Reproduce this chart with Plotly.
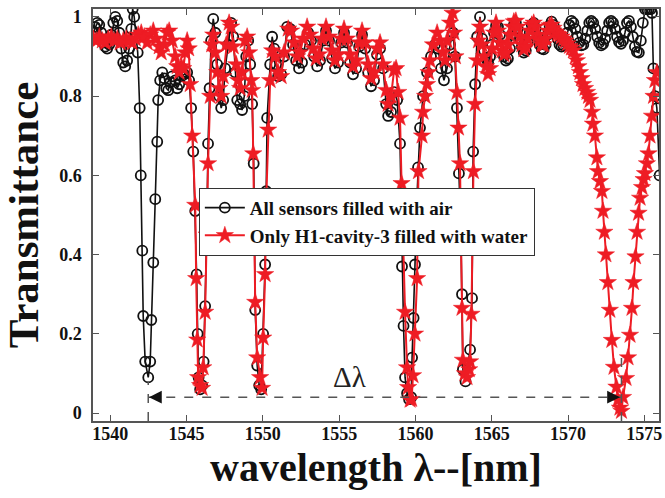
import plotly.graph_objects as go

# ---------------- data ----------------
wl_air = [
    1538.89, 1539.02, 1539.15, 1539.28, 1539.41, 1539.54, 1539.67, 1539.80, 1539.93, 1540.07,
    1540.20, 1540.33, 1540.46, 1540.59, 1540.72, 1540.85, 1540.98, 1541.11, 1541.24, 1541.38,
    1541.47, 1541.57, 1541.70, 1541.80, 1541.93, 1542.00, 1542.10, 1542.16, 1542.29, 1542.49,
    1542.62, 1542.69, 1542.82, 1542.95, 1543.08, 1543.14, 1543.27, 1543.41, 1543.54, 1543.67,
    1543.80, 1543.93, 1544.06, 1544.26, 1544.39, 1544.52, 1544.65, 1544.85, 1545.04, 1545.17,
    1545.30, 1545.44, 1545.57, 1545.66, 1545.73, 1545.79, 1545.89, 1546.02, 1546.12, 1546.22,
    1546.32, 1546.41, 1546.51, 1546.61, 1546.75, 1546.88, 1547.01, 1547.14, 1547.27, 1547.40,
    1547.53, 1547.73, 1547.92, 1548.06, 1548.19, 1548.32, 1548.51, 1548.64, 1548.78, 1548.91,
    1549.04, 1549.17, 1549.30, 1549.40, 1549.45, 1549.50, 1549.63, 1549.76, 1549.89, 1550.02,
    1550.15, 1550.22, 1550.28, 1550.48, 1550.61, 1550.74, 1550.87, 1551.00, 1551.20, 1551.39,
    1551.59, 1551.79, 1551.98, 1552.18, 1552.37, 1552.57, 1552.77, 1552.97, 1553.16, 1553.36,
    1553.56, 1553.75, 1553.95, 1554.14, 1554.34, 1554.54, 1554.73, 1554.93, 1555.13, 1555.32,
    1555.52, 1555.72, 1555.91, 1556.11, 1556.31, 1556.50, 1556.70, 1556.90, 1557.09, 1557.29,
    1557.48, 1557.68, 1557.88, 1558.08, 1558.21, 1558.40, 1558.60, 1558.80, 1558.99, 1559.06,
    1559.12, 1559.22, 1559.32, 1559.45, 1559.58, 1559.72, 1559.78, 1559.88, 1559.97, 1560.07,
    1560.17, 1560.30, 1560.50, 1560.76, 1561.02, 1561.28, 1561.48, 1561.68, 1561.87, 1562.07,
    1562.27, 1562.46, 1562.59, 1562.72, 1562.85, 1562.98, 1563.05, 1563.11, 1563.28, 1563.45,
    1563.58, 1563.71, 1563.75, 1563.78, 1563.91, 1564.04,
    1564.23, 1564.37, 1564.50, 1564.63, 1564.76, 1564.89, 1565.02, 1565.15, 1565.28, 1565.41,
    1565.54, 1565.67, 1565.80, 1565.93, 1566.06, 1566.19, 1566.32, 1566.45, 1566.58, 1566.71,
    1566.84, 1566.97, 1567.10, 1567.23, 1567.36, 1567.49, 1567.62, 1567.75, 1567.88, 1568.01,
    1568.14, 1568.27, 1568.40, 1568.53, 1568.66, 1568.79, 1568.92, 1569.05, 1569.18, 1569.31,
    1569.44, 1569.57, 1569.70, 1569.83, 1569.96, 1570.09, 1570.22, 1570.35, 1570.48, 1570.61,
    1570.74, 1570.87, 1571.00, 1571.13, 1571.26, 1571.39, 1571.52, 1571.65, 1571.78, 1571.91,
    1572.04, 1572.17, 1572.30, 1572.43, 1572.56, 1572.69, 1572.82, 1572.95, 1573.08, 1573.21,
    1573.34, 1573.47, 1573.60, 1573.73, 1573.86, 1573.99, 1574.12, 1574.25, 1574.38, 1574.51,
    1574.64, 1574.77, 1574.90, 1575.04, 1575.17, 1575.30, 1575.43, 1575.50, 1575.59, 1575.70,
    1575.82, 1576.00,
]
t_air = [
    0.96, 0.975, 0.985, 0.98, 0.96, 0.935, 0.925, 0.92, 0.93, 0.955,
    0.985, 1.0, 0.99, 0.96, 0.92, 0.885, 0.875, 0.89, 0.92, 0.97,
    1.02, 1.0, 0.95, 0.91, 0.77, 0.60, 0.41, 0.245, 0.13, 0.09,
    0.13, 0.235, 0.38, 0.54, 0.685, 0.79, 0.84, 0.86, 0.845, 0.82,
    0.815, 0.835, 0.85, 0.84, 0.82, 0.83, 0.85, 0.855, 0.86, 0.84,
    0.77, 0.66, 0.51, 0.35, 0.20, 0.09, 0.06, 0.07, 0.13, 0.27,
    0.45, 0.68, 0.82, 0.94, 0.995, 0.96, 0.88, 0.80, 0.77, 0.79,
    0.87, 0.93, 0.985, 0.95, 0.86, 0.79, 0.78, 0.765, 0.80, 0.90,
    0.94, 0.88, 0.78, 0.63, 0.45, 0.26, 0.12, 0.07, 0.06, 0.20,
    0.375, 0.56, 0.745, 0.88, 0.95, 0.92, 0.88, 0.85, 0.855, 0.90,
    0.975, 0.97, 0.93, 0.89, 0.87, 0.885, 0.93, 0.96, 0.94, 0.90,
    0.875, 0.89, 0.94, 0.965, 0.94, 0.895, 0.87, 0.885, 0.935, 0.96,
    0.935, 0.885, 0.855, 0.87, 0.925, 0.955, 0.92, 0.86, 0.825, 0.84,
    0.905, 0.92, 0.87, 0.78, 0.75, 0.76, 0.81, 0.79, 0.68, 0.52,
    0.37, 0.22, 0.09, 0.05, 0.035, 0.04, 0.14, 0.24, 0.375, 0.52,
    0.62, 0.72, 0.80, 0.86, 0.90, 0.93, 0.92, 0.87, 0.84, 0.87,
    0.93, 0.96, 0.90, 0.77, 0.605, 0.45, 0.30, 0.11, 0.08, 0.12,
    0.16, 0.29, 0.45, 0.66, 0.83, 0.95,
    1.0, 0.945, 0.915, 0.895, 0.885, 0.90, 0.93, 0.96, 0.978, 0.975,
    0.955, 0.925, 0.90, 0.89, 0.895, 0.92, 0.955, 0.98, 0.985, 0.97,
    0.945, 0.925, 0.91, 0.915, 0.935, 0.96, 0.98, 0.985, 0.97, 0.95,
    0.93, 0.92, 0.918, 0.93, 0.955, 0.978, 0.988, 0.98, 0.965, 0.945,
    0.93, 0.925, 0.928, 0.94, 0.96, 0.98, 0.99, 0.985, 0.97, 0.95,
    0.935, 0.928, 0.93, 0.945, 0.965, 0.985, 0.99, 0.985, 0.97, 0.95,
    0.935, 0.928, 0.932, 0.945, 0.965, 0.985, 0.99, 0.985, 0.97, 0.95,
    0.937, 0.932, 0.94, 0.96, 0.985, 0.99, 0.975, 0.95, 0.925, 0.912,
    0.91, 0.94, 0.985, 1.02, 1.02, 1.02, 1.02, 1.01, 0.87, 0.80,
    0.77, 0.60,
]

wl_water = [
    1538.89, 1539.08, 1539.28, 1539.48, 1539.67, 1539.87, 1540.07, 1540.26, 1540.46, 1540.65,
    1540.85, 1541.05, 1541.24, 1541.44, 1541.64, 1541.83, 1542.03, 1542.23, 1542.42, 1542.62,
    1542.82, 1543.01, 1543.21, 1543.34, 1543.54, 1543.73, 1543.86, 1544.06, 1544.26, 1544.39,
    1544.52, 1544.65, 1544.78, 1544.91, 1545.04, 1545.14, 1545.24, 1545.37, 1545.57, 1545.63,
    1545.70, 1545.76, 1545.89, 1546.02, 1546.09, 1546.22, 1546.32, 1546.41, 1546.55, 1546.65,
    1546.75, 1546.88, 1547.01, 1547.14, 1547.27, 1547.40, 1547.60, 1547.79, 1547.92, 1548.06,
    1548.26, 1548.38, 1548.51, 1548.64, 1548.84, 1548.97, 1549.10, 1549.24, 1549.30, 1549.37,
    1549.43, 1549.50, 1549.63, 1549.82, 1549.95, 1550.02, 1550.15, 1550.22, 1550.35, 1550.48,
    1550.61, 1550.81, 1551.00, 1551.20, 1551.39, 1551.66, 1551.85, 1552.05, 1552.25, 1552.44,
    1552.64, 1552.90, 1553.10, 1553.29, 1553.49, 1553.69, 1553.88, 1554.14, 1554.34, 1554.54,
    1554.73, 1554.93, 1555.13, 1555.32, 1555.52, 1555.72, 1555.91, 1556.11, 1556.31, 1556.50,
    1556.70, 1556.90, 1557.09, 1557.29, 1557.48, 1557.68, 1557.88, 1558.08, 1558.21, 1558.40,
    1558.60, 1558.73, 1558.87, 1558.99, 1559.09, 1559.19, 1559.32, 1559.45, 1559.52, 1559.65,
    1559.75, 1559.84, 1559.97, 1560.11, 1560.14, 1560.20, 1560.43, 1560.50, 1560.63, 1560.76,
    1560.86, 1560.96, 1561.15, 1561.42, 1561.61, 1561.81, 1561.94, 1562.07, 1562.27, 1562.43,
    1562.53, 1562.62, 1562.72, 1562.82, 1562.92, 1562.99, 1563.05, 1563.11, 1563.24, 1563.38,
    1563.52, 1563.58, 1563.67, 1563.73, 1563.80, 1563.91, 1564.04, 1564.13,
    1564.23, 1564.37, 1564.50, 1564.63, 1564.76, 1564.89, 1565.02, 1565.15, 1565.28, 1565.41,
    1565.54, 1565.67, 1565.80, 1565.93, 1566.06, 1566.19, 1566.32, 1566.45, 1566.58, 1566.71,
    1566.84, 1566.97, 1567.10, 1567.23, 1567.36, 1567.49, 1567.62, 1567.75, 1567.88, 1568.01,
    1568.14, 1568.27, 1568.40, 1568.53, 1568.66, 1568.79, 1568.92, 1569.05, 1569.18, 1569.31,
    1569.44, 1569.57, 1569.70, 1569.83, 1569.96, 1570.09, 1570.22, 1570.35, 1570.48, 1570.58,
    1570.68, 1570.78, 1570.88, 1570.98, 1571.11, 1571.24, 1571.34, 1571.44, 1571.57, 1571.63,
    1571.76, 1571.89, 1571.96, 1572.09, 1572.22, 1572.29, 1572.38, 1572.48, 1572.61, 1572.74,
    1572.87, 1573.01, 1573.17, 1573.27, 1573.40, 1573.50, 1573.60, 1573.80, 1573.93, 1574.06,
    1574.19, 1574.29, 1574.42, 1574.52, 1574.62, 1574.72, 1574.85, 1574.95, 1575.04, 1575.17,
    1575.27, 1575.37, 1575.50, 1575.60, 1575.69, 1575.82,
]
t_water = [
    0.945, 0.94, 0.95, 0.94, 0.935, 0.945, 0.95, 0.94, 0.945, 0.935,
    0.94, 0.945, 0.94, 0.935, 0.945, 0.955, 0.96, 0.95, 0.935, 0.955,
    0.965, 0.945, 0.925, 0.91, 0.93, 0.96, 0.965, 0.94, 0.90, 0.875,
    0.86, 0.875, 0.87, 0.91, 0.94, 0.92, 0.83, 0.70, 0.525, 0.34,
    0.185, 0.09, 0.07, 0.063, 0.115, 0.255, 0.45, 0.63, 0.80, 0.93,
    0.955, 0.91, 0.86, 0.82, 0.80, 0.85, 0.93, 0.985, 0.975, 0.925,
    0.88, 0.84, 0.82, 0.86, 0.94, 0.95, 0.91, 0.84, 0.815, 0.655,
    0.45, 0.28, 0.14, 0.09, 0.063, 0.19, 0.35, 0.54, 0.715, 0.84,
    0.915, 0.90, 0.86, 0.85, 0.91, 0.97, 0.965, 0.935, 0.90, 0.91,
    0.945, 0.975, 0.955, 0.92, 0.895, 0.905, 0.945, 0.975, 0.95, 0.915,
    0.89, 0.905, 0.945, 0.97, 0.945, 0.905, 0.875, 0.89, 0.935, 0.965,
    0.935, 0.88, 0.845, 0.86, 0.92, 0.935, 0.88, 0.815, 0.78, 0.80,
    0.865, 0.87, 0.81, 0.745, 0.58, 0.42, 0.255, 0.115, 0.065, 0.033,
    0.035, 0.095, 0.20, 0.34, 0.47, 0.61, 0.70, 0.76, 0.80, 0.83,
    0.86, 0.89, 0.93, 0.96, 0.94, 0.91, 0.89, 0.94, 0.985, 1.01,
    0.96, 0.90, 0.81, 0.72, 0.63, 0.42, 0.265, 0.134, 0.10, 0.09,
    0.11, 0.13, 0.25, 0.42, 0.61, 0.78, 0.89, 0.94,
    0.975, 0.93, 0.90, 0.875, 0.855, 0.87, 0.92, 0.96, 0.985, 0.965,
    0.935, 0.915, 0.905, 0.91, 0.93, 0.955, 0.975, 0.988, 0.99, 0.975,
    0.95, 0.93, 0.918, 0.925, 0.945, 0.965, 0.98, 0.985, 0.975, 0.955,
    0.94, 0.93, 0.93, 0.945, 0.965, 0.978, 0.98, 0.972, 0.962, 0.957,
    0.955, 0.95, 0.945, 0.94, 0.933, 0.926, 0.922, 0.915, 0.90, 0.89,
    0.875, 0.86, 0.845, 0.83, 0.82, 0.81, 0.80, 0.79, 0.76, 0.73,
    0.70, 0.645, 0.61, 0.585, 0.56, 0.51, 0.457, 0.40, 0.33, 0.26,
    0.184, 0.116, 0.066, 0.033, 0.013, 0.005, 0.04, 0.088, 0.14, 0.197,
    0.265, 0.33, 0.395, 0.457, 0.505, 0.543, 0.57, 0.59, 0.605, 0.63,
    0.655, 0.70, 0.75, 0.80, 0.84, 0.86,
]

series_names = ["All sensors filled with air", "Only H1-cavity-3 filled with water"]
x_ticks = [1540, 1545, 1550, 1555, 1560, 1565, 1570, 1575]
y_ticks = [0, 0.2, 0.4, 0.6, 0.8, 1]
y_tick_text = ["0", "0.2", "0.4", "0.6", "0.8", "1"]
shift_from = 1542.49   # air resonance of H1-cavity-3
shift_to = 1573.50     # water resonance of H1-cavity-3
arrow_level = 0.04

SERIF = "Liberation Serif"
RED = "#ee1c24"
INK = "#111111"

fig = go.Figure()
fig.add_trace(go.Scatter(
    x=wl_air, y=t_air, mode="lines+markers", name=series_names[0],
    line=dict(color=INK, width=1.6),
    marker=dict(symbol="circle-open", size=10, color=INK, line=dict(width=1.8)),
))
fig.add_trace(go.Scatter(
    x=wl_water, y=t_water, mode="lines+markers", name=series_names[1],
    line=dict(color=RED, width=2),
    marker=dict(symbol="star", size=13, color=RED, line=dict(width=0.5, color=RED)),
))

dash_col = "#555555"
fig.add_shape(type="line", x0=shift_from, x1=shift_to, y0=arrow_level, y1=arrow_level,
              xref="x", yref="y", line=dict(color=dash_col, width=1.5, dash="dash"))
fig.add_shape(type="line", x0=shift_from, x1=shift_from, y0=-0.02, y1=0.08,
              xref="x", yref="y", line=dict(color=dash_col, width=1.5, dash="dash"))
fig.add_shape(type="line", x0=shift_to, x1=shift_to, y0=-0.02, y1=0.15,
              xref="x", yref="y", line=dict(color=dash_col, width=1.5, dash="dash"))
fig.add_annotation(x=shift_from + 0.05, y=arrow_level, ax=shift_from + 0.9, ay=arrow_level,
                   xref="x", yref="y", axref="x", ayref="y", text="", showarrow=True,
                   arrowhead=2, arrowsize=1.7, arrowwidth=1.5, arrowcolor=INK)
fig.add_annotation(x=shift_to - 0.1, y=arrow_level, ax=shift_to - 0.95, ay=arrow_level,
                   xref="x", yref="y", axref="x", ayref="y", text="", showarrow=True,
                   arrowhead=2, arrowsize=1.7, arrowwidth=1.5, arrowcolor=INK)
fig.add_annotation(x=1555.7, y=0.09, xref="x", yref="y", text="Δλ", showarrow=False,
                   font=dict(family=SERIF, size=29, color="#222222"))

axis_common = dict(
    showline=True, linecolor="#555555", linewidth=1.5, mirror="ticks",
    ticks="inside", ticklen=6, tickwidth=1.2, tickcolor="#555555",
    showgrid=False, zeroline=False,
    tickfont=dict(family=SERIF, size=18, color=INK, weight="bold"),
)
fig.update_xaxes(range=[1538.87, 1575.96], tickvals=x_ticks, **axis_common,
                 ticklabelstandoff=-4,
                 title=dict(text="wavelength λ--[nm]", standoff=10,
                            font=dict(family=SERIF, size=40, color=INK, weight="bold")))
fig.update_yaxes(range=[-0.02, 1.02], tickvals=y_ticks, ticktext=y_tick_text, **axis_common,
                 ticklabelstandoff=6,
                 title=dict(text="Transmittance", standoff=9,
                            font=dict(family=SERIF, size=43, color=INK, weight="bold")))

fig.update_layout(
    width=665, height=498,
    margin=dict(l=93, r=6, t=9, b=77, autoexpand=False),
    paper_bgcolor="white", plot_bgcolor="white",
    showlegend=True,
    legend=dict(x=0.187, y=0.566, xanchor="left", yanchor="top",
                bgcolor="white", bordercolor="#333333", borderwidth=1,
                font=dict(family=SERIF, size=19, color=INK, weight="bold"),
                tracegroupgap=0, itemwidth=40),
)

fig.write_html("out.html")
